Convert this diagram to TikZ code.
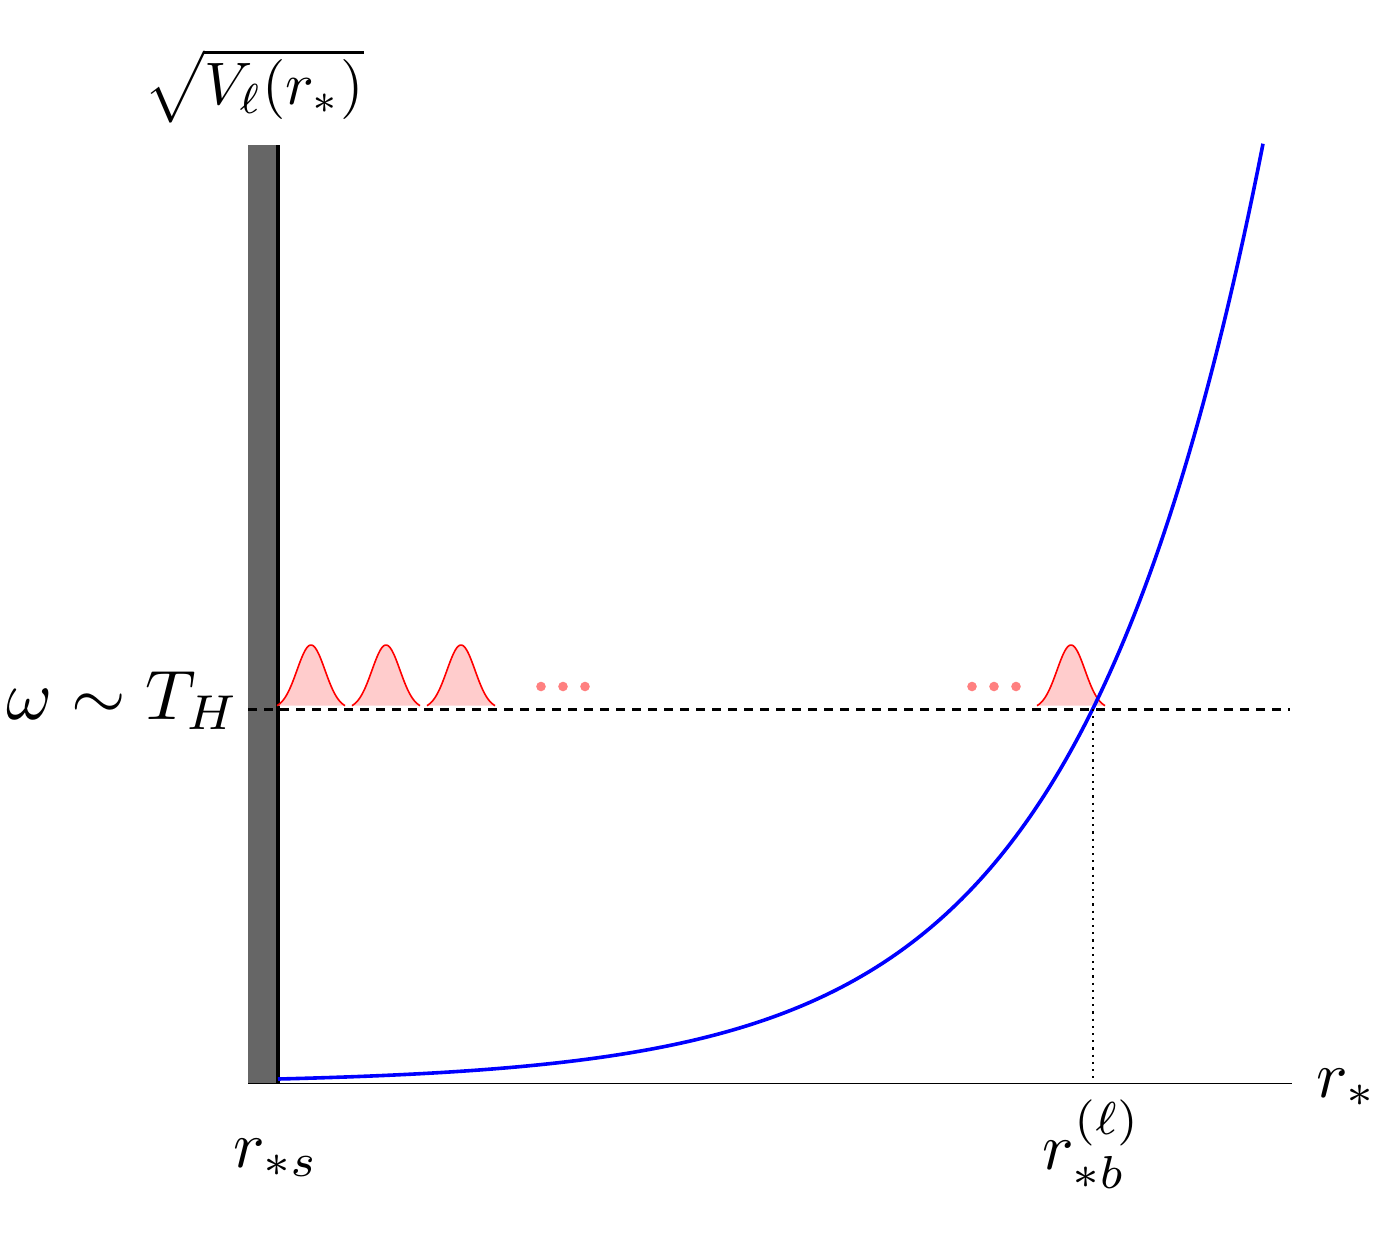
\documentclass[tikz,border=0pt]{standalone}
\usepackage{amsmath}
\begin{document}
\begin{tikzpicture}[x=0.5pt,y=-0.5pt,
  lbl/.style={scale=3.3,inner sep=0pt},
  bumpfill/.style={fill=red!20},
  bumpline/.style={draw=red,line width=0.8pt},
  pinkdot/.style={fill=red!50},
]
\useasboundingbox (0,0) rectangle (1380,1242);
% coordinates
\coordinate (bartop) at (248,145);
\coordinate (barbot) at (276,1083);
\coordinate (wallT) at (277.5,145);
\coordinate (wallB) at (277.5,1083);
\coordinate (axL) at (248,1083);
\coordinate (axR) at (1292,1083);
\coordinate (dashL) at (248,709);
\coordinate (dashR) at (1290,709);
\coordinate (cross) at (1093,709);
\coordinate (crossB) at (1093,1083);
% wall
\fill[black!60] (bartop) rectangle (barbot);
\draw[line width=0.5pt] (axL) -- (axR);
\draw[line width=1.5pt,dash pattern=on 4.5pt off 3.5pt] (dashL) -- (dashR);
\draw[line width=2pt] (wallT) -- (wallB);
% bumps
\foreach \c in {311,386,461,1071}{
  \fill[bumpfill] plot[domain=\c-34:\c+34,samples=60] (\x,{709-64*exp(-((\x-\c)^2)/392)}) -- cycle;
  \draw[bumpline] plot[domain=\c-34:\c+34,samples=60] (\x,{709-64*exp(-((\x-\c)^2)/392)});
}
% dots
\foreach \p in {541,563,585,972,994,1016}{
  \fill[pinkdot] (\p,686.5) circle (4.8);
}
% potential
\draw[blue,line width=1.8pt] plot[domain=278:1263,samples=200] (\x,{1083-(4.596*exp(0.0054*(\x-278))-0.596)});
% dotted
\draw[line width=1.1pt,dash pattern=on 1.1pt off 2.5pt] (cross) -- (crossB);
% labels
\node[lbl,scale=3.0/3.3] (ylab) at (254,86) {$\sqrt{V_\ell(r_*)}$};
\node[lbl,scale=3.5/3.3,anchor=base east] (omega) at (241,719) {$\omega\sim T_H$};
\node[lbl,anchor=base west] (xlab) at (1315,1097) {$r_*$};
\node[lbl,anchor=base] (rs) at (276,1167) {$r_{*s}$};
\node[lbl,anchor=base] (rb) at (1092,1169) {$r_{*b}^{(\ell)}$};
\end{tikzpicture}
\end{document}
